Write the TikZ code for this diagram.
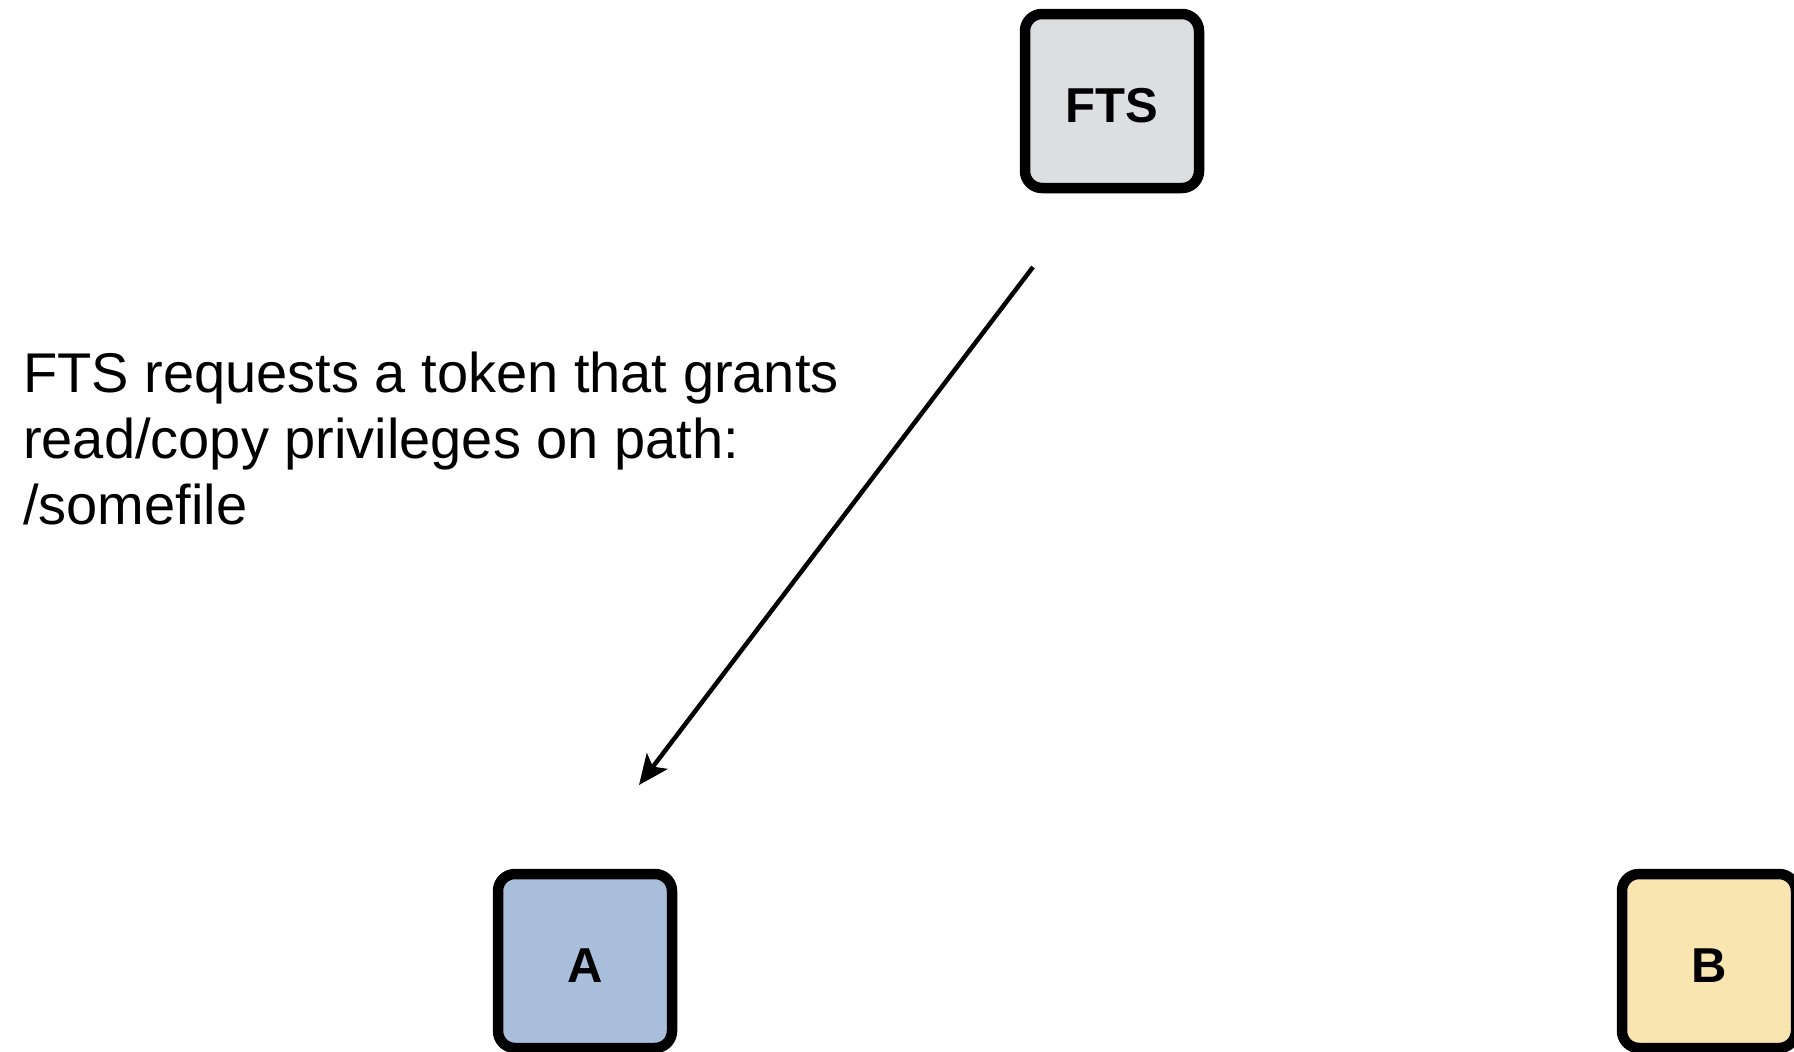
\documentclass[tikz,border=0pt]{standalone}
\usepackage{fontspec}
\setmainfont{Liberation Sans}
\usetikzlibrary{arrows.meta}

\definecolor{ftsgrey}{RGB}{221,222,224}
\definecolor{hostblue}{RGB}{169,190,219}
\definecolor{hostyellow}{RGB}{249,229,176}

\tikzset{
  actor/.style={draw=black, line width=10.5pt, rounded corners=17pt,
    minimum width=174pt, minimum height=174pt, inner sep=0pt,
    text height=42pt, text depth=0pt,
    font=\fontsize{49}{58}\selectfont\bfseries},
  flow/.style={draw=black, line width=4.5pt,
    -{Stealth[length=30pt, width=26pt, inset=7pt]}},
  note/.style={align=left, inner sep=0pt,
    font=\fontsize{56}{66}\selectfont}
}

\begin{document}
\begin{tikzpicture}[x=1pt, y=-1pt]
  \useasboundingbox (0,0) rectangle (1794,1052);
  \clip (0,0) rectangle (1794,1052);

  % services
  \node[actor, fill=ftsgrey]    (fts) at (1112,101) {FTS};
  \node[actor, fill=hostblue]   (a)   at (585,961)  {A};
  \node[actor, fill=hostyellow] (b)   at (1709,961) {B};

  % token request
  \coordinate (reqstart) at (1033,267);
  \coordinate (reqend)   at (639,785);
  \draw[flow] (reqstart) -- (reqend);

  \node[note, anchor=north west] (reqtext) at (23,352)
    {FTS requests a token that grants\\read/copy privileges on path:\\/somefile};
\end{tikzpicture}
\end{document}
